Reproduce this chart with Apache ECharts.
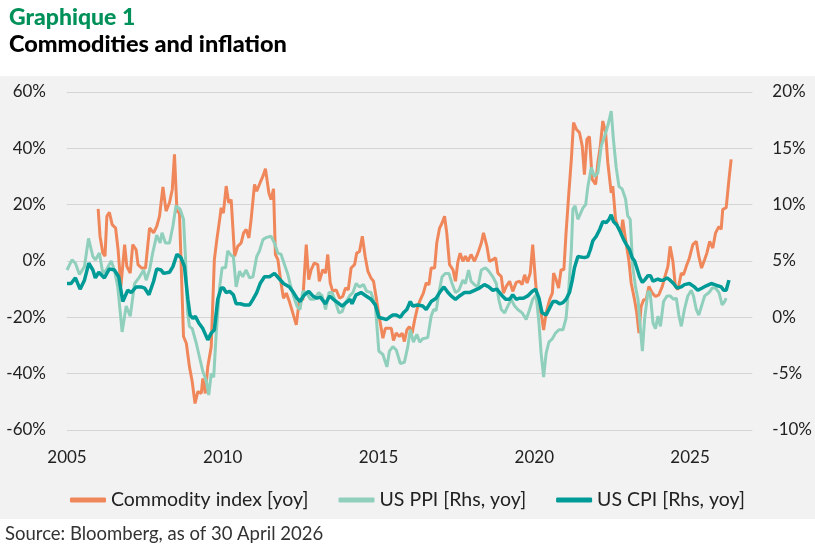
<!DOCTYPE html>
<html>
<head>
<meta charset="utf-8">
<title>Commodities and inflation</title>
<script src="https://cdn.jsdelivr.net/npm/echarts@6/dist/echarts.min.js"></script>
<style>
    html, body { margin: 0; padding: 0; background: #fff; }
    #main { width: 815px; height: 548px; }
</style>
</head>
<body>
<div id="main"></div>
<script>
// x axis ticks (years)
var yearTicks = [2005, 2010, 2015, 2020, 2025];

// Commodity index, yoy % (left axis) - [year, value]
var commodityIndex = [
    [2006.00,18.5],[2006.06,8.8],[2006.15,2.8],[2006.22,1.7],[2006.28,15.9],[2006.36,17.3],[2006.45,12.9],[2006.56,11.7],
    [2006.64,4.0],[2006.73,-9.0],[2006.85,5.8],[2006.92,-1.9],[2007.03,-4.3],[2007.11,5.8],[2007.22,4.0],[2007.28,-1.3],
    [2007.39,-2.5],[2007.52,-2.5],[2007.65,11.7],[2007.78,10.0],[2007.88,12.3],[2007.97,15.9],[2008.08,26.3],[2008.18,17.7],
    [2008.29,20.7],[2008.38,25.4],[2008.45,37.9],[2008.53,17.7],[2008.61,17.0],[2008.74,-26.8],[2008.83,-29.2],[2008.93,-37.5],
    [2009.02,-42.9],[2009.11,-50.6],[2009.20,-46.4],[2009.31,-47.0],[2009.36,-41.7],[2009.44,-47.0],[2009.52,-37.5],[2009.63,-30.4],
    [2009.73,0.5],[2009.81,7.6],[2009.90,14.7],[2009.95,18.9],[2010.02,17.0],[2010.11,26.6],[2010.19,20.7],[2010.27,21.8],
    [2010.38,1.7],[2010.48,5.2],[2010.59,6.4],[2010.67,10.0],[2010.75,11.2],[2010.84,8.2],[2010.91,14.7],[2011.02,27.2],
    [2011.09,24.8],[2011.20,27.8],[2011.29,30.1],[2011.37,32.8],[2011.48,24.2],[2011.55,21.8],[2011.63,25.6],[2011.69,2.3],
    [2011.77,0.5],[2011.87,-7.8],[2011.95,-13.2],[2012.04,-11.4],[2012.14,-14.4],[2012.25,-18.5],[2012.36,-22.7],[2012.46,-13.8],
    [2012.57,-13.8],[2012.68,5.8],[2012.76,-6.6],[2012.84,-3.1],[2012.94,-0.7],[2013.05,-1.3],[2013.10,-7.2],[2013.21,-3.1],
    [2013.30,-4.3],[2013.37,2.3],[2013.45,-7.8],[2013.53,-10.8],[2013.64,-10.2],[2013.75,-13.2],[2013.85,-12.6],[2013.94,-9.6],
    [2014.03,-10.2],[2014.12,-2.5],[2014.23,-1.3],[2014.30,2.8],[2014.39,3.4],[2014.48,8.8],[2014.57,1.7],[2014.66,-3.7],
    [2014.76,-6.1],[2014.84,-7.2],[2014.92,-12.6],[2015.03,-20.3],[2015.14,-27.4],[2015.22,-23.9],[2015.33,-23.9],[2015.41,-23.9],
    [2015.48,-28.2],[2015.57,-25.6],[2015.67,-26.8],[2015.76,-25.6],[2015.83,-28.6],[2015.91,-24.5],[2015.99,-23.3],[2016.08,-25.6],
    [2016.16,-20.9],[2016.26,-16.1],[2016.34,-13.8],[2016.44,-11.4],[2016.53,-7.8],[2016.62,-8.4],[2016.69,-2.5],[2016.80,-2.5],
    [2016.87,6.4],[2016.96,11.7],[2017.04,13.5],[2017.12,15.9],[2017.19,10.0],[2017.28,-1.3],[2017.39,-3.1],[2017.47,-7.2],
    [2017.55,-0.1],[2017.62,2.8],[2017.71,-0.1],[2017.79,1.7],[2017.87,-0.1],[2017.97,2.3],[2018.08,-0.1],[2018.19,2.8],
    [2018.30,6.4],[2018.37,10.0],[2018.48,5.2],[2018.56,-0.1],[2018.67,0.5],[2018.76,1.1],[2018.83,-4.3],[2018.94,-5.5],
    [2019.01,-11.4],[2019.10,-9.0],[2019.21,-7.2],[2019.31,-10.8],[2019.42,-7.6],[2019.53,-7.2],[2019.61,-8.4],[2019.69,-4.9],
    [2019.77,-7.8],[2019.87,-4.3],[2019.95,5.8],[2020.04,-7.2],[2020.11,-16.1],[2020.22,-18.5],[2020.30,-24.5],[2020.38,-18.5],
    [2020.49,-13.8],[2020.58,-11.4],[2020.62,-4.3],[2020.70,-6.6],[2020.78,-9.6],[2020.86,-3.1],[2020.95,-3.1],[2021.02,10.0],
    [2021.11,24.2],[2021.19,36.1],[2021.26,49.1],[2021.35,46.8],[2021.45,45.6],[2021.54,40.8],[2021.61,30.7],[2021.69,43.2],
    [2021.77,44.2],[2021.86,29.0],[2021.97,27.2],[2022.04,34.9],[2022.12,40.8],[2022.20,49.7],[2022.29,45.6],[2022.36,34.9],
    [2022.47,24.2],[2022.52,26.6],[2022.61,14.7],[2022.68,12.3],[2022.79,10.0],[2022.84,14.7],[2022.93,7.6],[2023.04,-0.1],
    [2023.11,-7.8],[2023.22,-13.8],[2023.29,-18.5],[2023.36,-25.6],[2023.43,-16.1],[2023.51,-13.8],[2023.59,-13.8],[2023.68,-9.0],
    [2023.79,-11.4],[2023.89,-12.6],[2024.00,-12.0],[2024.11,-9.0],[2024.21,-4.9],[2024.29,-1.9],[2024.36,5.2],[2024.45,-0.1],
    [2024.53,-9.0],[2024.61,-10.2],[2024.72,-4.3],[2024.79,-4.9],[2024.88,-1.9],[2024.98,1.1],[2025.09,5.8],[2025.20,7.0],
    [2025.28,1.7],[2025.37,-2.5],[2025.47,0.5],[2025.54,2.8],[2025.63,7.0],[2025.73,4.6],[2025.82,10.0],[2025.93,12.3],
    [2026.00,11.2],[2026.05,18.3],[2026.16,18.9],[2026.25,29.0],[2026.32,36.1]
];

// US PPI, yoy % (right axis)
var usPpi = [
    [2005.00,4.2],[2005.16,5.1],[2005.27,4.8],[2005.40,3.8],[2005.56,4.5],[2005.69,7.0],[2005.83,5.4],[2005.91,5.1],
    [2006.04,5.7],[2006.15,3.9],[2006.26,4.2],[2006.42,5.0],[2006.52,4.2],[2006.63,2.7],[2006.77,-1.3],[2006.90,1.0],
    [2007.03,0.1],[2007.17,3.0],[2007.33,3.6],[2007.46,4.2],[2007.54,3.3],[2007.65,4.2],[2007.75,5.7],[2007.88,7.3],
    [2007.99,6.6],[2008.05,7.5],[2008.16,6.6],[2008.29,6.6],[2008.40,8.1],[2008.50,9.9],[2008.63,9.6],[2008.74,8.7],
    [2008.80,5.5],[2008.87,0.5],[2008.93,-0.8],[2009.02,-1.0],[2009.15,-2.3],[2009.25,-3.5],[2009.36,-4.8],[2009.47,-5.6],
    [2009.55,-6.9],[2009.63,-5.0],[2009.71,-5.3],[2009.79,-1.4],[2009.90,2.7],[2009.98,4.4],[2010.09,4.4],[2010.16,5.9],
    [2010.27,5.5],[2010.34,5.4],[2010.43,2.7],[2010.54,4.1],[2010.64,3.6],[2010.75,4.2],[2010.86,3.5],[2010.97,3.6],
    [2011.09,5.4],[2011.18,5.9],[2011.29,6.9],[2011.41,7.1],[2011.55,7.2],[2011.66,6.6],[2011.77,5.7],[2011.87,5.6],
    [2011.98,4.7],[2012.09,3.8],[2012.16,3.0],[2012.27,1.9],[2012.38,1.0],[2012.48,0.7],[2012.57,2.3],[2012.68,2.2],
    [2012.81,1.6],[2012.94,1.6],[2013.08,2.2],[2013.19,1.9],[2013.30,0.7],[2013.41,2.2],[2013.51,2.2],[2013.59,1.6],
    [2013.73,0.4],[2013.83,0.5],[2013.94,1.3],[2014.07,1.9],[2014.18,2.2],[2014.28,3.0],[2014.39,2.7],[2014.52,2.9],
    [2014.62,2.3],[2014.76,2.2],[2014.90,1.0],[2015.01,-3.0],[2015.14,-3.3],[2015.27,-4.4],[2015.35,-3.0],[2015.46,-2.6],
    [2015.57,-2.9],[2015.70,-4.1],[2015.76,-4.1],[2015.83,-4.0],[2015.94,-2.6],[2016.02,-1.1],[2016.12,-2.2],[2016.23,-1.5],
    [2016.32,-2.2],[2016.42,-1.9],[2016.58,-1.8],[2016.69,0.1],[2016.77,0.7],[2016.85,0.6],[2016.94,2.2],[2017.04,3.6],
    [2017.15,3.9],[2017.26,3.9],[2017.36,3.0],[2017.47,2.2],[2017.58,2.4],[2017.71,3.3],[2017.79,3.0],[2017.89,4.2],
    [2017.97,3.2],[2018.08,2.9],[2018.19,2.7],[2018.30,4.2],[2018.43,4.4],[2018.54,4.1],[2018.67,3.6],[2018.78,3.0],
    [2018.86,1.6],[2018.94,0.7],[2019.05,0.4],[2019.15,1.0],[2019.26,1.6],[2019.37,1.0],[2019.47,0.7],[2019.61,0.4],
    [2019.74,-0.2],[2019.85,0.7],[2019.95,1.6],[2020.06,2.0],[2020.15,-0.5],[2020.22,-3.2],[2020.30,-5.3],[2020.38,-3.2],
    [2020.47,-2.2],[2020.58,-1.9],[2020.68,-1.4],[2020.79,-1.1],[2020.92,-1.1],[2021.02,-0.1],[2021.11,2.7],[2021.19,6.0],
    [2021.24,9.6],[2021.31,9.9],[2021.40,8.7],[2021.45,8.7],[2021.56,9.7],[2021.65,10.0],[2021.72,11.6],[2021.83,13.3],
    [2021.93,12.5],[2022.04,12.8],[2022.15,15.2],[2022.26,16.1],[2022.36,17.0],[2022.47,18.3],[2022.54,15.8],[2022.63,13.3],
    [2022.72,11.6],[2022.82,11.4],[2022.93,10.5],[2023.00,9.0],[2023.08,8.7],[2023.16,4.5],[2023.25,2.7],[2023.33,1.6],
    [2023.40,-0.8],[2023.47,-3.0],[2023.54,-0.2],[2023.65,2.3],[2023.72,2.2],[2023.81,-0.5],[2023.89,-1.0],[2023.97,0.1],
    [2024.05,-0.8],[2024.15,1.4],[2024.26,1.9],[2024.36,1.9],[2024.47,1.6],[2024.56,1.7],[2024.64,0.2],[2024.72,-0.8],
    [2024.82,0.7],[2024.93,1.9],[2025.04,2.4],[2025.11,1.9],[2025.20,0.7],[2025.28,0.2],[2025.37,1.0],[2025.47,1.9],
    [2025.61,2.2],[2025.71,2.6],[2025.82,2.6],[2025.93,2.2],[2026.03,1.1],[2026.11,1.4],[2026.16,1.7]
];

// US CPI, yoy % (right axis)
var usCpi = [
    [2005.00,3.0],[2005.13,3.0],[2005.27,3.5],[2005.42,2.5],[2005.56,3.3],[2005.70,4.8],[2005.83,4.2],[2005.91,3.5],
    [2006.02,4.0],[2006.20,3.5],[2006.36,4.3],[2006.52,4.2],[2006.66,3.6],[2006.79,1.4],[2006.95,2.4],[2007.06,2.2],
    [2007.22,2.7],[2007.38,2.7],[2007.49,2.6],[2007.63,2.0],[2007.78,3.2],[2007.88,4.3],[2008.02,4.2],[2008.10,3.9],
    [2008.29,4.0],[2008.40,4.5],[2008.53,5.6],[2008.66,5.3],[2008.77,4.5],[2008.88,1.6],[2008.95,0.2],[2009.04,-0.1],
    [2009.12,0.1],[2009.23,-0.5],[2009.36,-1.0],[2009.52,-2.0],[2009.63,-1.4],[2009.73,-1.1],[2009.84,1.6],[2009.95,2.6],
    [2010.02,2.6],[2010.11,2.2],[2010.22,2.3],[2010.34,2.0],[2010.43,1.2],[2010.56,1.2],[2010.70,1.1],[2010.86,1.1],
    [2010.97,1.6],[2011.09,2.2],[2011.20,3.0],[2011.34,3.6],[2011.50,3.6],[2011.66,3.9],[2011.82,3.4],[2011.95,3.0],
    [2012.14,2.7],[2012.27,2.2],[2012.38,1.7],[2012.48,1.4],[2012.62,2.0],[2012.76,2.3],[2012.89,1.9],[2013.02,1.7],
    [2013.13,1.8],[2013.30,1.2],[2013.43,1.9],[2013.55,1.6],[2013.69,1.3],[2013.83,1.0],[2013.96,1.3],[2014.09,1.6],
    [2014.15,1.2],[2014.28,2.0],[2014.44,2.2],[2014.60,1.9],[2014.76,1.6],[2014.90,1.1],[2015.01,0.0],[2015.14,-0.1],
    [2015.25,-0.2],[2015.35,0.0],[2015.46,0.2],[2015.57,0.2],[2015.70,0.0],[2015.80,0.4],[2015.91,0.7],[2016.02,1.4],
    [2016.10,1.0],[2016.26,1.1],[2016.42,1.0],[2016.53,0.7],[2016.69,1.4],[2016.85,1.7],[2016.96,2.2],[2017.10,2.7],
    [2017.23,2.2],[2017.33,1.9],[2017.47,1.6],[2017.60,1.9],[2017.76,2.2],[2017.92,2.2],[2018.08,2.4],[2018.24,2.6],
    [2018.40,2.9],[2018.54,2.7],[2018.67,2.4],[2018.80,2.5],[2018.94,2.0],[2019.08,1.6],[2019.21,1.6],[2019.31,2.0],
    [2019.42,1.6],[2019.53,1.7],[2019.65,1.7],[2019.79,1.9],[2019.93,2.3],[2020.04,2.5],[2020.15,1.7],[2020.25,0.4],
    [2020.38,0.2],[2020.49,0.8],[2020.60,1.4],[2020.70,1.4],[2020.81,1.2],[2020.92,1.3],[2021.02,1.6],[2021.13,2.2],
    [2021.22,3.3],[2021.29,4.4],[2021.40,5.4],[2021.45,5.4],[2021.61,5.3],[2021.72,5.4],[2021.80,6.0],[2021.88,6.8],
    [2021.99,7.2],[2022.10,7.8],[2022.20,8.5],[2022.31,8.4],[2022.40,8.7],[2022.47,9.1],[2022.54,8.5],[2022.65,8.2],
    [2022.76,7.6],[2022.87,6.9],[2022.95,6.5],[2023.06,6.0],[2023.14,5.3],[2023.22,5.0],[2023.29,4.4],[2023.38,3.6],
    [2023.47,3.1],[2023.54,3.3],[2023.65,3.7],[2023.73,3.7],[2023.81,3.2],[2023.89,3.3],[2023.97,3.4],[2024.04,3.3],
    [2024.15,3.3],[2024.26,3.5],[2024.36,3.3],[2024.47,3.0],[2024.58,2.6],[2024.72,2.7],[2024.82,2.9],[2024.98,3.0],
    [2025.14,2.7],[2025.25,2.4],[2025.39,2.6],[2025.52,2.8],[2025.68,3.0],[2025.79,2.9],[2025.89,2.8],[2026.00,2.7],
    [2026.08,2.4],[2026.16,2.4],[2026.25,3.3]
];

var seriesNames = ['Commodity index [yoy]', 'US PPI [Rhs, yoy]', 'US CPI [Rhs, yoy]'];
var seriesColors = ['#F0875A', '#8FCFBC', '#009B96'];

var labelFont = 'Lato, "Open Sans", sans-serif';

var myChart = echarts.init(document.getElementById('main'));

var option = {
    animation: false,
    backgroundColor: '#ffffff',
    title: [
        {
            text: 'Graphique 1',
            left: 4, top: 1,
            textStyle: { color: '#00915A', fontSize: 23, fontWeight: 900, fontFamily: labelFont }
        },
        {
            text: 'Commodities and inflation',
            left: 4, top: 27,
            textStyle: { color: '#000', fontSize: 23.5, fontWeight: 900, fontFamily: labelFont }
        }
    ],
    graphic: [
        {
            type: 'rect', z: -10, silent: true,
            shape: { x: 0, y: 76, width: 815, height: 443 },
            style: { fill: '#f2f2f2' }
        },
        {
            type: 'text', left: 5, top: 525, silent: true,
            style: { text: 'Source: Bloomberg, as of 30 April 2026', fill: '#333', fontSize: 18.5, fontFamily: labelFont }
        }
    ],
    legend: {
        data: seriesNames,
        left: 'center',
        top: 485,
        icon: 'roundRect',
        itemWidth: 36,
        itemHeight: 5,
        itemGap: 30,
        textStyle: { color: '#222', fontSize: 19.5, fontFamily: labelFont }
    },
    grid: { left: 67, right: 62, top: 92, bottom: 118 },
    xAxis: {
        type: 'value',
        min: yearTicks[0],
        max: 2027,
        interval: 5,
        axisLine: { show: false },
        axisTick: { show: false },
        splitLine: { show: false },
        axisLabel: {
            showMaxLabel: false,
            margin: 19,
            color: '#222', fontSize: 17, fontFamily: labelFont,
            formatter: function (v) { return yearTicks.indexOf(v) >= 0 ? String(v) : ''; }
        }
    },
    yAxis: [
        {
            type: 'value',
            min: -60, max: 60, interval: 20,
            axisLine: { show: false },
            axisTick: { show: false },
            splitLine: { lineStyle: { color: '#d4d4d4', width: 1 } },
            axisLabel: { formatter: '{value}%', margin: 21, color: '#222', fontSize: 17, fontFamily: labelFont }
        },
        {
            type: 'value',
            min: -10, max: 20, interval: 5,
            axisLine: { show: false },
            axisTick: { show: false },
            splitLine: { show: false },
            axisLabel: { formatter: '{value}%', margin: 20, color: '#222', fontSize: 17, fontFamily: labelFont }
        }
    ],
    series: [
        {
            name: seriesNames[0], type: 'line', yAxisIndex: 0, data: commodityIndex,
            showSymbol: false, symbol: 'none', color: seriesColors[0],
            lineStyle: { width: 3, color: seriesColors[0] }, z: 2
        },
        {
            name: seriesNames[1], type: 'line', yAxisIndex: 1, data: usPpi,
            showSymbol: false, symbol: 'none', color: seriesColors[1],
            lineStyle: { width: 3, color: seriesColors[1] }, z: 3
        },
        {
            name: seriesNames[2], type: 'line', yAxisIndex: 1, data: usCpi,
            showSymbol: false, symbol: 'none', color: seriesColors[2],
            lineStyle: { width: 3.5, color: seriesColors[2] }, z: 4
        }
    ]
};

myChart.setOption(option);
</script>
</body>
</html>
